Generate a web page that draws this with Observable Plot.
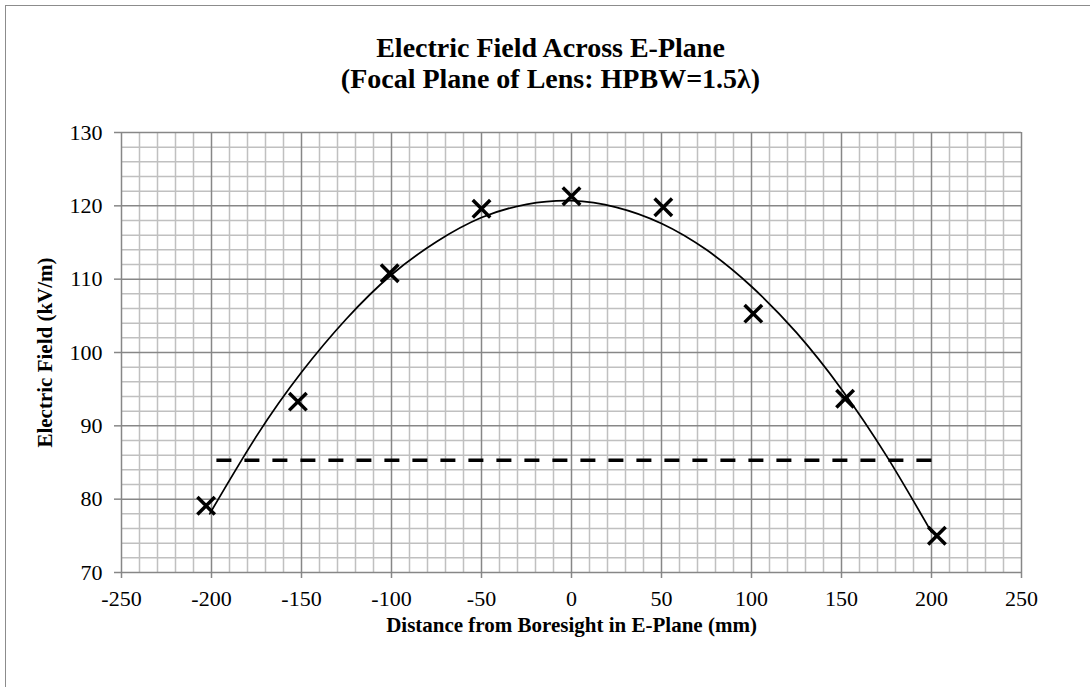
<!DOCTYPE html>
<html>
<head>
<meta charset="utf-8">
<script src="https://cdn.jsdelivr.net/npm/d3@7"></script>
<script src="https://cdn.jsdelivr.net/npm/@observablehq/plot@0.6"></script>
<style>
html, body { margin: 0; padding: 0; background: #fff; }
#wrap { position: relative; width: 1090px; height: 687px; overflow: hidden; background: #fff; }
#frame { position: absolute; left: 5px; top: 5px; width: 1200px; height: 800px;
  border-left: 1.5px solid #8c8c8c; border-top: 1.5px solid #8c8c8c; }
#chart { position: absolute; left: 0; top: 0; }
</style>
</head>
<body>
<div id="wrap"><div id="frame"></div><div id="chart"></div></div>
<script>
// ---- data ----
const titleLines = ["Electric Field Across E-Plane", "(Focal Plane of Lens: HPBW=1.5λ)"];
const xLabel = "Distance from Boresight in E-Plane (mm)";
const yLabel = "Electric Field (kV/m)";

const xTicks = [-250, -200, -150, -100, -50, 0, 50, 100, 150, 200, 250];
const yTicks = [70, 80, 90, 100, 110, 120, 130];

// measured points (X markers)
const positionMm = [-203, -152, -101, -50, 0, 51, 101, 152, 203];
const fieldKVm   = [79.1, 93.3, 110.8, 119.6, 121.3, 119.8, 105.3, 93.7, 75.0];

// smooth trend line
const trendX = [-201, -175, -150, -125, -100, -75, -50, -25, 0, 25, 50, 75, 100, 125, 150, 175, 200];
const trendY = [78.0, 88.6, 97.3, 104.6, 110.6, 115.1, 118.4, 120.2, 120.7, 119.8, 117.6, 114.0, 109.0, 102.7, 95.0, 85.9, 75.5];

// dashed half-power level
const hpbwX = [-197, 204];
const hpbwLevel = 85.3;

// ---- build ----
const points = positionMm.map((x, i) => ({x, y: fieldKVm[i]}));
const trend = trendX.map((x, i) => ({x, y: trendY[i]}));
const minorX = d3.range(-250, 251, 10).filter(v => v % 50 !== 0);
const minorY = d3.range(70, 131, 2).filter(v => v % 10 !== 0);
const font = "'Liberation Serif', 'Times New Roman', serif";

const chart = Plot.plot({
  width: 1090,
  height: 687,
  marginLeft: 121,
  marginRight: 69,
  marginTop: 132,
  marginBottom: 115,
  x: {domain: [-250, 250]},
  y: {domain: [70, 130]},
  style: {fontFamily: font, background: "transparent", color: "#000", overflow: "visible"},
  marks: [
    Plot.ruleX(minorX, {stroke: "#c0c0c0", strokeWidth: 1.5}),
    Plot.ruleY(minorY, {stroke: "#c0c0c0", strokeWidth: 1.5}),
    Plot.ruleX(xTicks, {stroke: "#878787", strokeWidth: 1.5}),
    Plot.ruleY(yTicks, {stroke: "#878787", strokeWidth: 1.5}),
    Plot.axisX({ticks: xTicks, tickSize: 6, tickPadding: 12, fontSize: 22, label: null,
      stroke: "#878787", strokeWidth: 1.5, tickFormat: d => String(d).replace("−", "-"), fill: "#000"}),
    Plot.axisY({ticks: yTicks, tickSize: 7, tickPadding: 12, fontSize: 22, label: null,
      stroke: "#878787", strokeWidth: 1.5, fill: "#000"}),
    Plot.ruleY([hpbwLevel], {x1: hpbwX[0], x2: hpbwX[1], stroke: "#000", strokeWidth: 3.5,
      strokeDasharray: "15,13"}),
    Plot.line(trend, {x: "x", y: "y", curve: "natural", stroke: "#000", strokeWidth: 1.75}),
    Plot.dot(points, {x: "x", y: "y", symbol: "times", r: 8, stroke: "#000", strokeWidth: 3.5}),
    Plot.text([xLabel], {frameAnchor: "bottom", lineAnchor: "middle", dy: 53, fontSize: 21, fontWeight: "bold", fill: "#000"}),
    Plot.text([yLabel], {frameAnchor: "left", textAnchor: "middle", lineAnchor: "middle", dx: -76, rotate: -90, fontSize: 21, fontWeight: "bold", fill: "#000"}),
    Plot.text([titleLines[0]], {frameAnchor: "top", lineAnchor: "middle", dx: -21, dy: -84, fontSize: 28, fontWeight: "bold", fill: "#000"}),
    Plot.text([titleLines[1]], {frameAnchor: "top", lineAnchor: "middle", dx: -21, dy: -53, fontSize: 28, fontWeight: "bold", fill: "#000"})
  ]
});
document.getElementById("chart").appendChild(chart);
</script>
</body>
</html>
